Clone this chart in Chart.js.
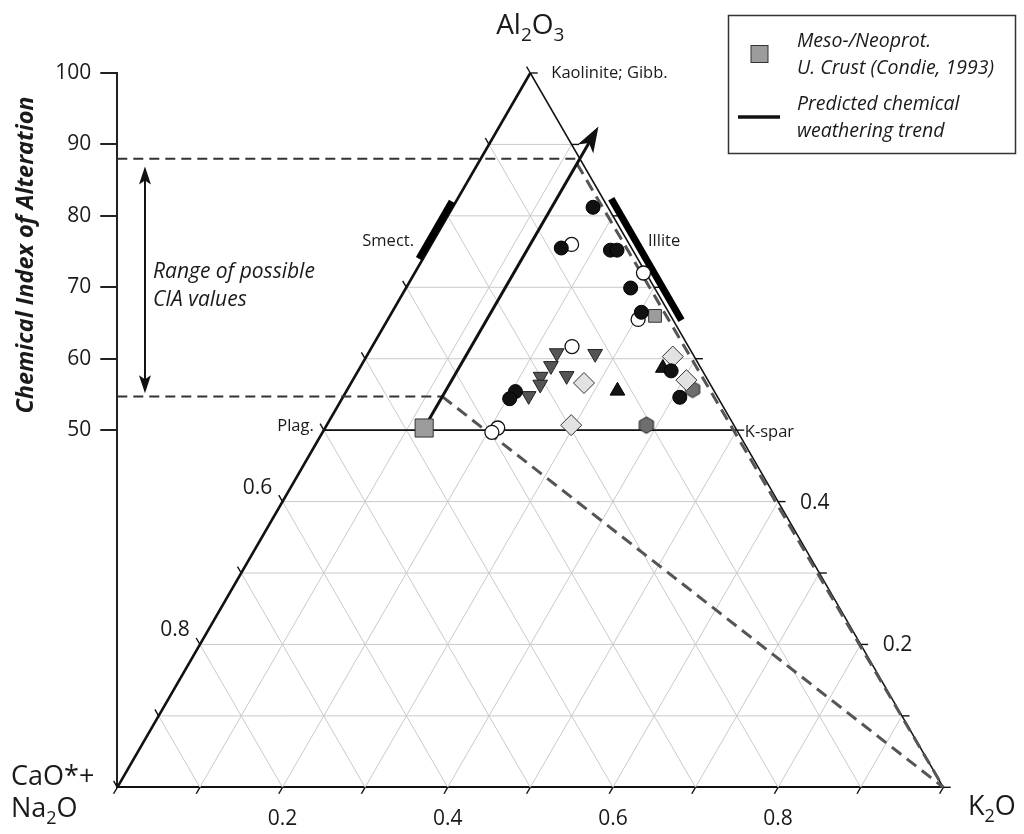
<!DOCTYPE html>
<html><head><meta charset="utf-8">
<script src="https://cdn.jsdelivr.net/npm/chart.js@4.4.1/dist/chart.umd.min.js"></script>
<style>html,body{margin:0;padding:0;background:#fff;}canvas{display:block;}</style>
</head><body>
<canvas id="c" width="1024" height="834"></canvas>
<script>
// ---------------- DATA (CIA = Al2O3 %, K2O % of A-CN-K) ----------------
const blackCircleCIA = [81.2, 75.5, 75.2, 75.2, 69.9, 66.5, 55.4, 54.4, 58.3, 54.6];
const blackCircleK2O = [17.0, 16.0, 22.1, 22.9, 27.2, 30.2, 20.5, 20.3, 37.9, 40.8];
const openCircleCIA  = [76.0, 72.0, 65.5, 61.7, 50.3, 49.7];
const openCircleK2O  = [17.0, 27.7, 30.3, 24.2, 20.9, 20.5];
const downTriCIA     = [60.8, 60.7, 59.0, 57.6, 57.5, 56.4, 54.8];
const downTriK2O     = [22.8, 27.5, 23.0, 25.6, 22.5, 23.0, 22.4];
const upTriCIA       = [55.5, 58.7];
const upTriK2O       = [32.8, 36.7];
const diamondCIA     = [56.6, 50.7, 60.3, 57.0];
const diamondK2O     = [28.2, 29.6, 37.1, 40.4];
const hexCIA         = [50.7, 55.7];
const hexK2O         = [38.7, 41.8];
const greySquareCIA  = [66.0];
const greySquareK2O  = [32.1];
const crustCIA       = [50.3];   // Meso-/Neoprot. U. Crust (Condie, 1993)
const crustK2O       = [12.0];
const trendCIA       = [50.3, 91.9];  // predicted chemical weathering trend
const trendK2O       = [12.0, 12.0];
const ciaRange       = [54.7, 88.0];  // range of possible CIA values
const kMixStartCIA   = [54.7, 87.3];  // K-metasomatism lines start on the trend
const ciaRangeArrow  = [55.6, 86.5];
const smectRange     = [74.0, 82.0];
const illiteRange    = [65.4, 82.4];
const feldsparCIA    = 50;
const gridSteps      = [10, 20, 30, 40, 50, 60, 70, 80, 90];
const edgeTickSteps  = [0, 10, 20, 30, 40, 50, 60, 70, 80, 90, 100];
const xLabelValues   = [0.2, 0.4, 0.6, 0.8];   // K2O
const leftEdgeLabels = [0.6, 0.8];             // CaO*+Na2O
const rightEdgeLabels= [0.2, 0.4];             // Al2O3
const yLabelFrom     = 50;

// ---------------- helpers ----------------
const FONT = "'Open Sans', 'Noto Sans', sans-serif";
const INK = '#1a1a1a';
function tern(A, K) { return { x: K / 100 + A / 200, y: A }; }
function pts(As, Ks) { return As.map((a, i) => tern(a, Ks[i])); }

function hexImage(r, fill, stroke) {
  const s = Math.ceil(r * 2 + 3);
  const c = document.createElement('canvas');
  c.width = s; c.height = s;
  const g = c.getContext('2d');
  g.beginPath();
  for (let i = 0; i < 6; i++) {
    const a = -Math.PI / 2 + i * Math.PI / 3;
    const px = s / 2 + r * Math.cos(a), py = s / 2 + r * Math.sin(a);
    i ? g.lineTo(px, py) : g.moveTo(px, py);
  }
  g.closePath();
  g.fillStyle = fill; g.fill();
  g.lineWidth = 1; g.strokeStyle = stroke; g.stroke();
  return c;
}

const datasets = [];
function addLine(points, style, order) {
  datasets.push(Object.assign({
    data: points, showLine: true, pointRadius: 0, pointHoverRadius: 0, pointHitRadius: 0,
    fill: false, clip: false, order: order, borderCapStyle: 'butt', tension: 0
  }, style));
}
function addMarkers(label, As, Ks, style) {
  datasets.push(Object.assign({
    label, data: pts(As, Ks), showLine: false, order: 0, clip: false,
    pointBorderWidth: 1
  }, style));
}

// grid lines
gridSteps.forEach(g => {
  const st = { borderColor: '#cacaca', borderWidth: 1 };
  addLine([tern(g, 0), tern(g, 100 - g)], st, 30);          // constant Al2O3
  addLine([tern(0, g), tern(100 - g, g)], st, 30);          // constant K2O
  addLine([tern(0, 100 - g), tern(100 - g, 0)], st, 30);    // constant CN
});

// triangle edges (base is the x axis border)
addLine([tern(0, 0), tern(100, 0)], { borderColor: '#111', borderWidth: 2.6 }, 20);
addLine([tern(100, 0), tern(0, 100)], { borderColor: '#111', borderWidth: 1.5 }, 20);
// feldspar join
addLine([tern(feldsparCIA, 0), tern(feldsparCIA, 100 - feldsparCIA)], { borderColor: '#111', borderWidth: 1.6 }, 20);

// edge ticks
const TL = 0.009;
edgeTickSteps.forEach(t => {
  const st = { borderColor: '#111', borderWidth: 1.4 };
  const l = tern(t, 0);
  addLine([l, { x: l.x - TL / 2, y: l.y + 100 * TL }], st, 20);
  const r = tern(t, 100 - t);
  addLine([r, { x: r.x + TL, y: r.y }], st, 20);
  const b = { x: t / 100, y: 0 };
  addLine([b, { x: b.x - TL / 2, y: -100 * TL }], st, 20);
});

// mineral bars
addLine([tern(smectRange[0], 0), tern(smectRange[1], 0)].map(p => ({ x: p.x - 0.0048, y: p.y })),
  { borderColor: '#000', borderWidth: 7 }, 15);
addLine([tern(illiteRange[0], 100 - illiteRange[0]), tern(illiteRange[1], 100 - illiteRange[1])].map(p => ({ x: p.x + 0.0100, y: p.y })),
  { borderColor: '#000', borderWidth: 7 }, 15);

// range dashed lines and K-metasomatism lines
const hDash = { borderColor: '#333', borderWidth: 2, borderDash: [10, 6] };
const dDash = { borderColor: '#555', borderWidth: 3, borderDash: [12, 7] };
addLine([{ x: 0, y: ciaRange[1] }, tern(ciaRange[1], trendK2O[0])], hDash, 12);
addLine([{ x: 0, y: ciaRange[0] }, tern(ciaRange[0], trendK2O[0])], hDash, 12);
kMixStartCIA.forEach(a => addLine([tern(a, trendK2O[0]), tern(0, 100)], dDash, 12));

// range double arrow
addLine(ciaRangeArrow.map(a => ({ x: 0.0335, y: a })),
  { borderColor: '#111', borderWidth: 2, arrowEnds: ['start', 'end'], arrowLen: 18, arrowHalf: 6, arrowNotch: 4, arrowExt: 3 }, 10);

// weathering trend
addLine(pts(trendCIA, trendK2O),
  { label: 'Predicted chemical weathering trend', borderColor: '#111', borderWidth: 3, arrowEnds: ['end'], arrowLen: 26, arrowHalf: 9, arrowNotch: 7, arrowExt: 5 }, 5);

// markers
addMarkers('Black circles', blackCircleCIA, blackCircleK2O, { pointStyle: 'circle', pointRadius: 7, pointBackgroundColor: '#111', pointBorderColor: '#000' });
addMarkers('Open circles', openCircleCIA, openCircleK2O, { pointStyle: 'circle', pointRadius: 7, pointBackgroundColor: '#fff', pointBorderColor: '#111', pointBorderWidth: 1.3 });
addMarkers('Down triangles', downTriCIA, downTriK2O, { pointStyle: 'triangle', pointRotation: 180, pointRadius: 8.5, pointBackgroundColor: '#555', pointBorderColor: '#222' });
addMarkers('Up triangles', upTriCIA, upTriK2O, { pointStyle: 'triangle', pointRadius: 8.5, pointBackgroundColor: '#151515', pointBorderColor: '#000' });
addMarkers('Diamonds', diamondCIA, diamondK2O, { pointStyle: 'rectRot', pointRadius: 10.5, pointBackgroundColor: '#e2e2e2', pointBorderColor: '#333' });
addMarkers('Hexagons', hexCIA, hexK2O, { pointStyle: hexImage(8.2, '#6e6e6e', '#222'), pointRadius: 8 });
addMarkers('Grey square', greySquareCIA, greySquareK2O, { pointStyle: 'rect', pointRadius: 9, pointBackgroundColor: '#9c9c9c', pointBorderColor: '#333' });
addMarkers('Meso-/Neoprot. U. Crust (Condie, 1993)', crustCIA, crustK2O, { pointStyle: 'rect', pointRadius: 12.8, pointBackgroundColor: '#9c9c9c', pointBorderColor: '#333', legendKey: 'crust' });

// ---------------- plugins ----------------
const arrowPlugin = {
  id: 'arrowheads',
  afterDatasetsDraw(chart) {
    const ctx = chart.ctx;
    chart.data.datasets.forEach((ds, i) => {
      if (!ds.arrowEnds) return;
      const pts = chart.getDatasetMeta(i).data;
      ds.arrowEnds.forEach(end => {
        const a = end === 'end' ? pts[pts.length - 2] : pts[1];
        const b = end === 'end' ? pts[pts.length - 1] : pts[0];
        let dx = b.x - a.x, dy = b.y - a.y;
        const L = Math.hypot(dx, dy); dx /= L; dy /= L;
        const tx = b.x + dx * ds.arrowExt, ty = b.y + dy * ds.arrowExt;
        const px = -dy, py = dx;
        ctx.save();
        ctx.fillStyle = ds.borderColor;
        ctx.beginPath();
        ctx.moveTo(tx, ty);
        ctx.lineTo(tx - dx * ds.arrowLen + px * ds.arrowHalf, ty - dy * ds.arrowLen + py * ds.arrowHalf);
        ctx.lineTo(tx - dx * (ds.arrowLen - ds.arrowNotch), ty - dy * (ds.arrowLen - ds.arrowNotch));
        ctx.lineTo(tx - dx * ds.arrowLen - px * ds.arrowHalf, ty - dy * ds.arrowLen - py * ds.arrowHalf);
        ctx.closePath();
        ctx.fill();
        ctx.restore();
      });
    });
  }
};

function subText(ctx, parts, x, y, size, align) {
  const sub = Math.round(size * 0.68);
  let w = 0;
  parts.forEach(([t, s]) => { ctx.font = (s ? sub : size) + 'px ' + FONT; w += ctx.measureText(t).width; });
  let cx = align === 'center' ? x - w / 2 : (align === 'right' ? x - w : x);
  ctx.textAlign = 'left';
  ctx.textBaseline = 'alphabetic';
  parts.forEach(([t, s]) => {
    ctx.font = (s ? sub : size) + 'px ' + FONT;
    ctx.fillText(t, cx, s ? y + size * 0.26 : y);
    cx += ctx.measureText(t).width;
  });
}

const textPlugin = {
  id: 'annotations',
  afterDraw(chart) {
    const ctx = chart.ctx;
    const xs = chart.scales.x, ys = chart.scales.y;
    const P = (p) => ({ x: xs.getPixelForValue(p.x), y: ys.getPixelForValue(p.y) });
    ctx.save();
    ctx.fillStyle = INK;

    // y-axis title
    ctx.save();
    ctx.translate(33, 255);
    ctx.rotate(-Math.PI / 2);
    ctx.font = 'italic bold 23.5px ' + FONT;
    ctx.textAlign = 'center';
    ctx.textBaseline = 'alphabetic';
    ctx.fillText('Chemical Index of Alteration', 0, 0);
    ctx.restore();

    // vertex labels
    subText(ctx, [['Al', 0], ['2', 1], ['O', 0], ['3', 1]], P(tern(100, 0)).x, 34, 28, 'center');
    subText(ctx, [['CaO*+', 0]], 11, 785, 27, 'left');
    subText(ctx, [['Na', 0], ['2', 1], ['O', 0]], 11, 817, 27, 'left');
    subText(ctx, [['K', 0], ['2', 1], ['O', 0]], 968, 815, 27, 'left');

    // edge labels
    ctx.font = '21px ' + FONT;
    ctx.textBaseline = 'middle';
    ctx.textAlign = 'center';
    leftEdgeLabels.forEach(v => {
      const p = P(tern((1 - v) * 100, 0));
      ctx.fillText(v.toFixed(1), p.x - 25, p.y - 14);
    });
    ctx.textAlign = 'left';
    rightEdgeLabels.forEach(v => {
      const p = P(tern(v * 100, 100 - v * 100));
      ctx.fillText(v.toFixed(1), p.x + 22, p.y + 1);
    });

    // mineral labels
    ctx.font = '16.5px ' + FONT;
    ctx.textBaseline = 'alphabetic';
    ctx.textAlign = 'left';
    ctx.fillText('Kaolinite; Gibb.', P(tern(100, 0)).x + 21, 78);
    ctx.textAlign = 'right';
    ctx.fillText('Smect.', 414, 246);
    const plag = P(tern(feldsparCIA, 0));
    ctx.fillText('Plag.', plag.x - 10, plag.y + 1);
    ctx.textAlign = 'left';
    ctx.fillText('Illite', 648, 246);
    const ksp = P(tern(feldsparCIA, 100 - feldsparCIA));
    ctx.fillText('K-spar', ksp.x + 8, ksp.y + 7);

    // range text
    ctx.font = 'italic 21px ' + FONT;
    ctx.fillText('Range of possible', 153, 278);
    ctx.fillText('CIA values', 153, 306);
    ctx.restore();
  }
};

const legendPlugin = {
  id: 'customLegend',
  afterDraw(chart) {
    const ctx = chart.ctx;
    ctx.save();
    ctx.strokeStyle = '#333';
    ctx.lineWidth = 1.5;
    ctx.strokeRect(728.5, 15.5, 287, 138);
    const crust = chart.data.datasets.find(d => d.legendKey === 'crust');
    const side = 17;
    ctx.fillStyle = crust.pointBackgroundColor;
    ctx.strokeStyle = crust.pointBorderColor;
    ctx.lineWidth = 1;
    ctx.fillRect(759.5 - side / 2, 54 - side / 2, side, side);
    ctx.strokeRect(759.5 - side / 2, 54 - side / 2, side, side);
    const trend = chart.data.datasets.find(d => d.arrowEnds && d.label);
    ctx.strokeStyle = trend.borderColor;
    ctx.lineWidth = 3.5;
    ctx.beginPath(); ctx.moveTo(738, 117); ctx.lineTo(780, 117); ctx.stroke();
    ctx.fillStyle = INK;
    ctx.font = 'italic 19.5px ' + FONT;
    ctx.textAlign = 'left';
    ctx.textBaseline = 'alphabetic';
    ctx.fillText('Meso-/Neoprot.', 797, 47);
    ctx.fillText('U. Crust (Condie, 1993)', 797, 74);
    ctx.fillText('Predicted chemical', 797, 110);
    ctx.fillText('weathering trend', 797, 137);
    ctx.restore();
  }
};

new Chart(document.getElementById('c'), {
  type: 'scatter',
  data: { datasets },
  options: {
    responsive: false,
    animation: false,
    devicePixelRatio: 1,
    events: [],
    layout: { padding: { top: 73, right: 80.7, left: 0, bottom: 0 } },
    plugins: { legend: { display: false }, tooltip: { enabled: false }, title: { display: false } },
    scales: {
      x: {
        type: 'linear', min: 0, max: 1,
        afterFit: s => { s.height = 46.7; },
        grid: { display: false, drawTicks: false },
        border: { display: true, color: '#111', width: 2 },
        ticks: {
          stepSize: 0.1, autoSkip: false, maxRotation: 0, padding: 19,
          color: INK, font: { family: FONT, size: 21 },
          callback: v => { const r = Math.round(v * 10) / 10; return xLabelValues.includes(r) ? r.toFixed(1) : ''; }
        }
      },
      y: {
        type: 'linear', min: 0, max: 100,
        afterFit: s => { s.width = 117.3; },
        grid: {
          drawOnChartArea: false, drawTicks: true, tickLength: 17, lineWidth: 2,
          color: c => (c.tick && c.tick.value >= yLabelFrom) ? '#222' : 'rgba(0,0,0,0)'
        },
        border: { display: true, color: '#222', width: 2 },
        ticks: {
          stepSize: 10, autoSkip: false, padding: 9,
          color: INK, font: { family: FONT, size: 21 },
          callback: v => v >= yLabelFrom ? String(v) : ''
        }
      }
    }
  },
  plugins: [arrowPlugin, textPlugin, legendPlugin]
});
</script>
</body></html>
